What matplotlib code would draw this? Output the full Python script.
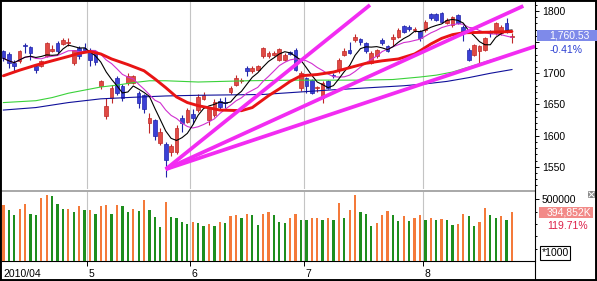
import numpy as np
import pandas as pd
import matplotlib
matplotlib.use("Agg")
import matplotlib.pyplot as plt
from matplotlib.patches import Rectangle
from matplotlib.lines import Line2D
from matplotlib.ticker import FixedLocator, MultipleLocator, FuncFormatter

plt.rcParams['font.family'] = ['Liberation Sans', 'DejaVu Sans']

# ---------------- data (daily bars, 2010/04 .. 2010/08) ----------------
opens = [1735, 1731, 1716, 1719, 1745, 1742, 1711, 1712, 1727, 1736, 1748, 1747, 1748, 1716, 1740, 1740,
         1737, 1732, 1679, 1631, 1660, 1692, 1680, 1684, 1685, 1668, 1665, 1621, 1625, 1588, 1587, 1574, 1573, 1629, 1622,
         1635, 1641, 1659, 1625, 1633, 1655, 1654, 1670, 1681, 1687, 1708, 1704, 1706, 1727, 1727, 1729, 1722, 1721, 1734, 1737, 1676,
         1692, 1689, 1676, 1660, 1687, 1697, 1705, 1730, 1738, 1753, 1755, 1749, 1717, 1727, 1753, 1744, 1755, 1759, 1776, 1775, 1769, 1768,
         1769, 1795, 1795, 1796, 1781, 1777, 1793, 1774, 1737, 1730, 1735, 1737, 1767, 1764, 1764, 1780, 1759]
highs = [1738, 1734, 1721, 1737, 1749, 1743, 1714, 1722, 1750, 1745, 1752, 1757, 1756, 1738, 1743, 1749,
         1740, 1735, 1690, 1660, 1681, 1695, 1683, 1700, 1698, 1671, 1667, 1636, 1627, 1612, 1590, 1586, 1617, 1633, 1645,
         1642, 1666, 1670, 1645, 1658, 1660, 1662, 1680, 1697, 1692, 1712, 1712, 1714, 1742, 1736, 1735, 1741, 1732, 1736, 1740, 1703,
         1694, 1691, 1680, 1687, 1690, 1700, 1725, 1740, 1751, 1763, 1757, 1750, 1735, 1739, 1756, 1746, 1763, 1772, 1778, 1777, 1774, 1770,
         1785, 1797, 1797, 1798, 1788, 1792, 1795, 1778, 1740, 1747, 1746, 1758, 1769, 1782, 1777, 1788, 1764]
lows = [1720, 1708, 1703, 1717, 1733, 1722, 1701, 1710, 1726, 1734, 1733, 1746, 1744, 1714, 1723, 1736,
        1711, 1714, 1675, 1626, 1653, 1665, 1656, 1682, 1683, 1644, 1636, 1604, 1593, 1585, 1534, 1568, 1570, 1606, 1620,
        1619, 1638, 1657, 1617, 1630, 1642, 1645, 1666, 1680, 1684, 1695, 1700, 1704, 1725, 1724, 1727, 1720, 1719, 1729, 1703, 1672,
        1668, 1666, 1670, 1652, 1674, 1693, 1700, 1727, 1731, 1750, 1746, 1733, 1715, 1725, 1745, 1734, 1744, 1757, 1765, 1768, 1766, 1752,
        1766, 1786, 1784, 1781, 1779, 1775, 1779, 1752, 1719, 1728, 1714, 1735, 1759, 1762, 1762, 1764, 1748]
closes = [1724, 1716, 1711, 1735, 1743, 1732, 1706, 1719, 1748, 1739, 1736, 1753, 1750, 1737, 1727, 1737,
          1721, 1718, 1687, 1648, 1677, 1669, 1661, 1695, 1696, 1652, 1642, 1629, 1599, 1606, 1561, 1583, 1612, 1621, 1641,
          1628, 1662, 1665, 1642, 1654, 1646, 1652, 1676, 1692, 1689, 1703, 1708, 1711, 1740, 1733, 1732, 1739, 1729, 1731, 1705, 1700,
          1680, 1668, 1677, 1684, 1676, 1696, 1722, 1735, 1733, 1758, 1750, 1736, 1733, 1737, 1748, 1736, 1759, 1769, 1767, 1771, 1771, 1756,
          1783, 1788, 1786, 1783, 1785, 1790, 1781, 1764, 1721, 1745, 1743, 1756, 1764, 1780, 1775, 1767.8, 1760.53]
volumes_k = [451, 411, 370, 424, 460, 378, 370, 514, 532, 524, 460, 419, 424, 395, 443, 411,
             414, 378, 443, 451, 378, 451, 448, 395, 424, 403, 492, 416, 357, 276, 476, 354, 351, 314, 297,
             314, 308, 284, 297, 281, 314, 308, 362, 373, 346, 378, 373, 292, 384, 397, 373, 314, 308, 346, 378, 335,
             333, 346, 351, 330, 346, 330, 470, 346, 411, 532, 395, 378, 281, 308, 373, 403, 373, 324, 362, 324, 346, 373,
             330, 346, 330, 338, 336, 292, 297, 378, 362, 281, 314, 427, 373, 346, 362, 329.84, 394.852]

# moving-average lines (bar index, value)
ma20_idx = [0, 3, 6, 9, 12, 14, 16, 18, 20, 23, 26, 28, 30, 32, 34, 36, 40, 44, 46, 49, 51, 53, 55, 58, 61, 64,
            67, 70, 73, 76, 77, 79, 81, 83, 85, 90, 94]
ma20_val = [1696, 1705, 1713, 1720, 1727, 1732, 1735, 1731, 1723, 1714, 1704, 1691, 1677, 1662, 1653, 1648, 1641,
            1640, 1645, 1664, 1675, 1687, 1696, 1698, 1702, 1709, 1716, 1720, 1723, 1731, 1736, 1747, 1756, 1762,
            1765, 1766, 1767]
ma60_idx = [0, 6, 9, 12, 15, 18, 21, 24, 27, 30, 36, 45, 54, 60, 66, 72, 77, 80, 83, 86, 90, 94]
ma60_val = [1653, 1656, 1661, 1668, 1673, 1678, 1681, 1685, 1688, 1688, 1686, 1688, 1689, 1689, 1689, 1690,
            1694, 1697, 1702, 1710, 1721, 1731]
ma120_idx = [0, 6, 12, 18, 24, 30, 36, 48, 60, 69, 74, 78, 82, 86, 90, 94]
ma120_val = [1641, 1645, 1653, 1659, 1661.5, 1663.6, 1664.7, 1666, 1673, 1677.5, 1680, 1683, 1687, 1693, 1700, 1706]

# trend lines drawn from the May low
trend_x0 = [30, 30, 30]
trend_y0 = [1546, 1546, 1546]
trend_x1 = [67.76, 96.1, 98.26]
trend_y1 = [1809.6, 1808.0, 1743.2]

month_pos = [15.5, 34.5, 55.5, 77.5]
x_labels = ["2010/04", "5", "6", "7", "8"]
price_ticks = [1550, 1600, 1650, 1700, 1750, 1800]
price_tick_labels = ["1550", "1600", "1650", "1700", "", "1800"]
last_price_label = "1,760.53"
change_label = "-0.41%"
last_vol_label = "394,852K"
vol_ratio_label = "119.71%"

# ---------------- figure ----------------
W, H = 597, 281
fig = plt.figure(figsize=(W / 100, H / 100), dpi=100)
fig.patch.set_facecolor('white')


def fx(px):
    return px / W


def fy(py):
    return 1 - py / H


ax1 = fig.add_axes([fx(2), fy(189), fx(535) - fx(2), fy(2) - fy(189)])
ax2 = fig.add_axes([fx(2), fy(261), fx(535) - fx(2), fy(191) - fy(261)])
XL = (-0.26, 98.26)
for ax in (ax1, ax2):
    ax.set_xlim(*XL)
    ax.set_facecolor('white')
    for s in ax.spines.values():
        s.set_visible(False)
    for m in month_pos:
        ax.axvline(m, color='#c4c4c4', lw=0.8, zorder=0)

ax1.set_ylim(1514.3, 1814.4)
ax2.set_ylim(0, 567)

n = len(closes)
x = np.arange(n)
o = np.array(opens, float)
c = np.array(closes, float)
h = np.array(highs, float)
l = np.array(lows, float)
up = c >= o
face = np.where(up, '#e04a44', '#3b40d6')
edge = np.where(up, '#c02828', '#2024a8')
ax1.vlines(x, l, h, colors=edge, lw=0.8, zorder=3)
body_bot = np.minimum(o, c)
body_h = np.maximum(np.abs(c - o), 1.3)
ax1.bar(x, body_h, bottom=body_bot, width=0.68, color=face, edgecolor=edge, lw=0.5, zorder=3)

s = pd.Series(c)
ma5 = s.rolling(5, min_periods=1).mean()
ma10 = s.rolling(10, min_periods=1).mean()
ax1.plot(ma120_idx, ma120_val, color='#10109a', lw=0.8, zorder=4)
ax1.plot(ma60_idx, ma60_val, color='#3ad23a', lw=0.8, zorder=4)
ax1.plot(x, ma10, color='#d030d0', lw=0.8, zorder=4)
ax1.plot(x, ma5, color='black', lw=0.8, zorder=4)
ax1.plot(ma20_idx, ma20_val, color='#e81414', lw=2.1, zorder=5, solid_capstyle='round')
for a, b, cc, d in zip(trend_x0, trend_y0, trend_x1, trend_y1):
    ax1.plot([a, cc], [b, d], color='#f22cf2', lw=2.7, zorder=6, solid_capstyle='butt')

# price axis (right)
ax1.yaxis.tick_right()
ax1.yaxis.set_major_locator(FixedLocator(price_ticks))
ax1.set_yticklabels(price_tick_labels)
ax1.yaxis.set_minor_locator(MultipleLocator(10))
ax1.tick_params(axis='y', which='major', length=3.2, width=0.7, pad=1.8, labelsize=7.5, direction='out')
ax1.tick_params(axis='y', which='minor', length=1.7, width=0.7, direction='out')
ax1.tick_params(axis='x', which='both', bottom=False, labelbottom=False)

# volume
v = np.array(volumes_k, float)
prev = np.concatenate([[0], v[:-1]])
vcol = np.where(v >= prev, '#f47a3a', '#1e8e1e')
ax2.bar(x, v, width=0.42, color=vcol, zorder=3)
ax2.spines['top'].set_visible(True)
ax2.spines['top'].set_color('#a8a8a8')
ax2.spines['top'].set_linewidth(1.4)
ax2.spines['bottom'].set_visible(True)
ax2.spines['bottom'].set_color('black')
ax2.spines['bottom'].set_linewidth(0.8)
ax2.yaxis.tick_right()
ax2.yaxis.set_major_locator(FixedLocator([500]))
ax2.yaxis.set_major_formatter(FuncFormatter(lambda val, pos: f"{int(val * 1000)}"))
ax2.yaxis.set_minor_locator(FixedLocator([100, 200, 300, 400]))
ax2.tick_params(axis='y', which='major', length=3.2, width=0.7, pad=1.8, labelsize=7.5, direction='out')
ax2.tick_params(axis='y', which='minor', length=1.7, width=0.7, direction='out')
ax2.set_xticks(month_pos)
ax2.set_xticklabels([])
ax2.tick_params(axis='x', which='major', length=3.3, width=0.7, direction='out', color='black')

for pos, lab in zip([XL[0]] + month_pos, x_labels):
    ax2.text(pos + 0.25, -0.18, lab, transform=ax2.get_xaxis_transform(), ha='left', va='center',
             fontsize=7.5, color='black')

# right axis line
fig.add_artist(Line2D([fx(535), fx(535)], [0, 1], transform=fig.transFigure, color='black', lw=0.8))

# last price marker
inv = fig.transFigure.inverted()
yp = inv.transform(ax1.transData.transform((0, closes[-1])))[1]
fig.add_artist(Rectangle((fx(536.5), yp - 5.5 / H), fx(597) - fx(536.5), 11 / H, transform=fig.transFigure,
                         facecolor='#7e8aea', edgecolor='none', zorder=5))
fig.text(fx(549), yp, last_price_label, color='white', fontsize=7.5, ha='left', va='center', zorder=6)
fig.text(fx(550), yp - 14.8 / H, change_label, color='#2b3fd2', fontsize=7.5, ha='left', va='center')

yv = inv.transform(ax2.transData.transform((0, volumes_k[-1])))[1]
fig.add_artist(Rectangle((fx(539.3), yv - 5.3 / H), fx(593.3) - fx(539.3), 10.6 / H, transform=fig.transFigure,
                         facecolor='#f28a88', edgecolor='none', zorder=5))
fig.text(fx(546.5), yv, last_vol_label, color='white', fontsize=7.5, ha='left', va='center', zorder=6)
fig.text(fx(547), yv - 14 / H, vol_ratio_label, color='#dc1f48', fontsize=7.5, ha='left', va='center')
fig.text(fx(541.5), fy(253), "*1000", color='black', fontsize=7.5, ha='left', va='center',
         bbox=dict(boxstyle='square,pad=0.15', facecolor='white', edgecolor='black', lw=0.8))

# small close box
fig.add_artist(Rectangle((fx(588), fy(198)), fx(7), 7 / H, transform=fig.transFigure,
                         facecolor='#8a8a8a', edgecolor='none'))
fig.add_artist(Line2D([fx(589), fx(594)], [fy(192), fy(197)], transform=fig.transFigure, color='white', lw=0.7))
fig.add_artist(Line2D([fx(589), fx(594)], [fy(197), fy(192)], transform=fig.transFigure, color='white', lw=0.7))

# outer frame
fig.add_artist(Rectangle((0, 0), 1, 1, transform=fig.transFigure, fill=False, edgecolor='black', lw=2.8))

fig.savefig('out.png', dpi=100, facecolor='white')
